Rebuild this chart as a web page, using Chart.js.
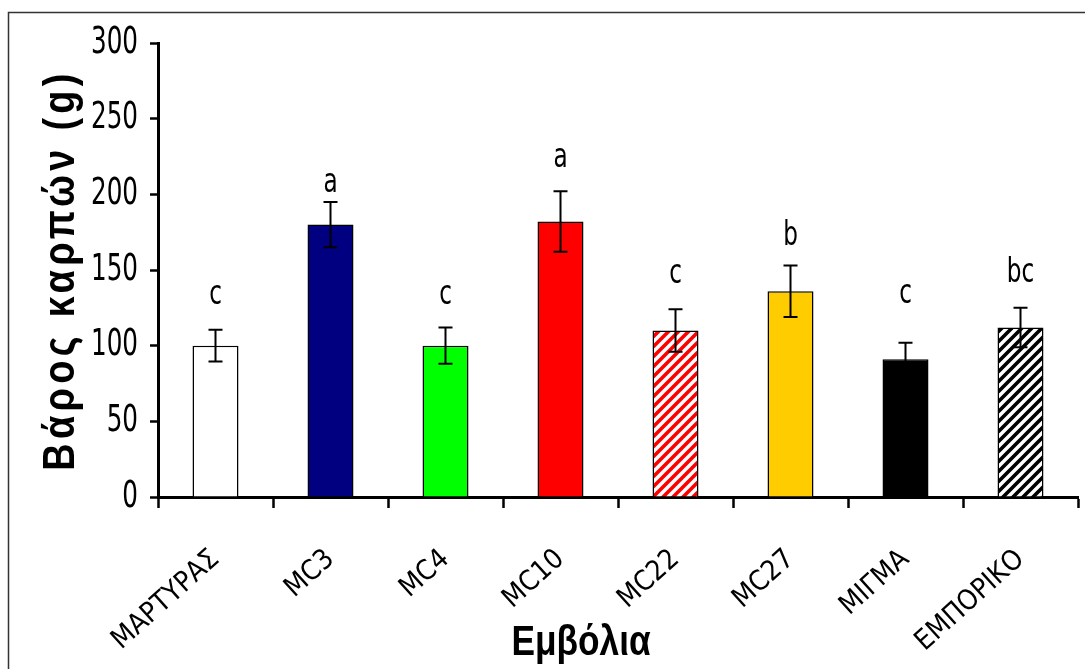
<!DOCTYPE html>
<html><head><meta charset="utf-8">
<script src="https://cdn.jsdelivr.net/npm/chart.js@4.4.1/dist/chart.umd.min.js"></script>
<style>html,body{margin:0;padding:0;background:#fff;}#wrap{width:1085px;height:669px;}</style>
</head><body><div id="wrap"><canvas id="c" width="1085" height="669"></canvas></div>
<script>
const categories = ['ΜΑΡΤΥΡΑΣ', 'MC3', 'MC4', 'MC10', 'MC22', 'MC27', 'ΜΙΓΜΑ', 'ΕΜΠΟΡΙΚΟ'];
const weights = [100, 180, 100, 182, 110, 136, 91, 112];
const errors = [10.5, 15, 12, 20, 14, 17, 11, 13];
const letters = ['c', 'a', 'c', 'a', 'c', 'b', 'c', 'bc'];
const letterAt = [133, 207, 133, 224, 147, 172, 134, 148];
const yMin = 0, yMax = 300, yStep = 50;
const xTitle = 'Εμβόλια';
const yTitle = 'Βάρος καρπών (g)';

const NARROW = '"DejaVu Sans Condensed", "Liberation Sans Narrow", sans-serif';
const BOLD = '"Liberation Sans", Arial, sans-serif';

function hatch(color) {
  const p = 10;
  const c = document.createElement('canvas');
  c.width = p; c.height = p;
  const g = c.getContext('2d');
  g.fillStyle = '#fff'; g.fillRect(0, 0, p, p);
  g.strokeStyle = color; g.lineWidth = 3.6; g.lineCap = 'square';
  g.beginPath();
  g.moveTo(-2, p + 2); g.lineTo(p + 2, -2);
  g.moveTo(-2, 2); g.lineTo(2, -2);
  g.moveTo(p - 2, p + 2); g.lineTo(p + 2, p - 2);
  g.stroke();
  return document.getElementById('c').getContext('2d').createPattern(c, 'repeat');
}

const fills = ['#ffffff', '#000080', '#00ff00', '#ff0000', hatch('#ff0000'), '#ffcc00', '#000000', hatch('#000000')];

const framePlugin = {
  id: 'frame',
  beforeDraw(chart) {
    const ctx = chart.ctx;
    ctx.save();
    ctx.strokeStyle = '#333';
    ctx.lineWidth = 1.5;
    ctx.strokeRect(8.5, 12.5, 1100, 700);
    ctx.restore();
  }
};

// draw the library's own y tick labels slightly condensed (tall, narrow digits as in the original)
const narrowYLabels = {
  id: 'narrowYLabels',
  afterLayout(chart) {
    const s = chart.scales.y;
    if (!s || s._narrowed) return;
    const orig = s.drawLabels.bind(s);
    s.drawLabels = function (area) {
      const ctx = this.ctx;
      const xr = this.right - 8 - 12;
      ctx.save();
      ctx.translate(xr, 0); ctx.scale(0.74, 1); ctx.translate(-xr, 0);
      orig(area);
      ctx.restore();
    };
    s._narrowed = true;
  }
};

const extrasPlugin = {
  id: 'extras',
  afterDatasetsDraw(chart) {
    const ctx = chart.ctx;
    const meta = chart.getDatasetMeta(0);
    const ys = chart.scales.y;
    ctx.save();
    ctx.strokeStyle = '#000';
    ctx.lineWidth = 2;
    meta.data.forEach((bar, i) => {
      const x = bar.x;
      const t = ys.getPixelForValue(weights[i] + errors[i]);
      const b = ys.getPixelForValue(weights[i] - errors[i]);
      ctx.beginPath();
      ctx.moveTo(x, t); ctx.lineTo(x, b);
      ctx.moveTo(x - 7, t); ctx.lineTo(x + 7, t);
      ctx.moveTo(x - 7, b); ctx.lineTo(x + 7, b);
      ctx.stroke();
    });
    ctx.fillStyle = '#000';
    ctx.font = '33px ' + NARROW;
    ctx.textAlign = 'center';
    ctx.textBaseline = 'middle';
    meta.data.forEach((bar, i) => {
      const y = ys.getPixelForValue(letterAt[i]);
      ctx.save();
      ctx.translate(bar.x, y); ctx.scale(0.78, 1);
      ctx.fillText(letters[i], 0, 0);
      ctx.restore();
    });
    ctx.restore();
  },
  afterDraw(chart) {
    const ctx = chart.ctx;
    ctx.save();
    ctx.fillStyle = '#000';
    ctx.textAlign = 'center';
    ctx.save();
    ctx.translate(581, 655); ctx.scale(0.82, 1);
    ctx.font = 'bold 43px ' + BOLD;
    ctx.textBaseline = 'alphabetic';
    ctx.fillText(xTitle, 0, 0);
    ctx.restore();
    ctx.translate(62, 270);
    ctx.rotate(-Math.PI / 2);
    ctx.scale(0.86, 1);
    ctx.font = 'bold 44px ' + BOLD;
    ctx.textBaseline = 'middle';
    ctx.letterSpacing = '5px';
    ctx.fillText(yTitle, 0, 0);
    ctx.restore();
  }
};

new Chart(document.getElementById('c'), {
  type: 'bar',
  data: {
    labels: categories,
    datasets: [{
      data: weights,
      backgroundColor: fills,
      borderColor: '#000',
      borderWidth: 1.5,
      barPercentage: 0.8,
      categoryPercentage: 0.5
    }]
  },
  options: {
    responsive: false,
    animation: false,
    devicePixelRatio: 1,
    layout: { padding: { left: 0, right: 7, top: 43, bottom: 0 } },
    plugins: { legend: { display: false }, tooltip: { enabled: false }, title: { display: false } },
    scales: {
      x: {
        offset: true,
        grid: { display: true, drawOnChartArea: false, offset: true, tickLength: 11, tickWidth: 2.5, tickColor: '#000' },
        border: { display: true, color: '#000', width: 3 },
        ticks: {
          color: '#000', autoSkip: false, minRotation: 42, maxRotation: 42, padding: 35,
          font: { family: NARROW, size: 28 }
        },
        afterFit(s) { s.height = 172; }
      },
      y: {
        min: yMin, max: yMax,
        grid: { display: true, drawOnChartArea: false, tickLength: 8, tickWidth: 2.5, tickColor: '#000' },
        border: { display: true, color: '#000', width: 3 },
        ticks: {
          stepSize: yStep, color: '#000', padding: 12,
          font: { family: NARROW, size: 37 }
        },
        afterFit(s) { s.width = 158; }
      }
    }
  },
  plugins: [framePlugin, narrowYLabels, extrasPlugin]
});
</script></body></html>
